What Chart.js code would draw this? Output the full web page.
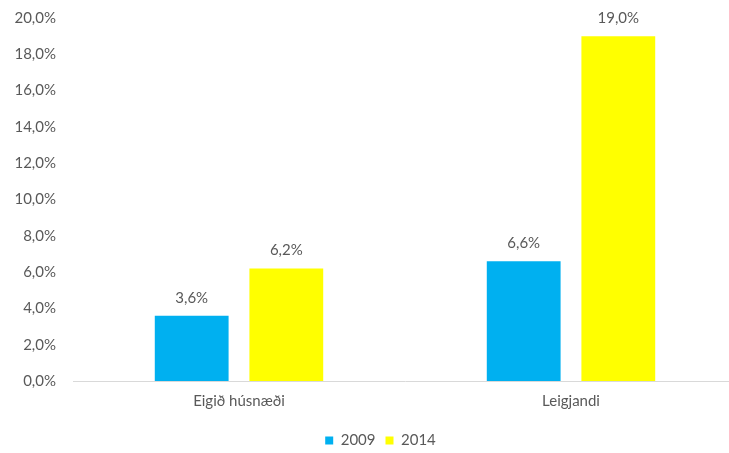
<!DOCTYPE html>
<html>
<head>
<meta charset="utf-8">
<script src="https://cdn.jsdelivr.net/npm/chart.js@4"></script>
<style>
  html,body{margin:0;padding:0;background:#fff;overflow:hidden;}
  #wrap{width:760px;height:458px;position:relative;}
</style>
</head>
<body>
<div id="wrap"><canvas id="c"></canvas></div>
<script>
const categories = ['Eigið húsnæði', 'Leigjandi'];
const years = ['2009', '2014'];
const values2009 = [3.6, 6.6];
const values2014 = [6.2, 19.0];
const yTicks = [0, 2, 4, 6, 8, 10, 12, 14, 16, 18, 20];

const fmtPct = (v)=> v.toFixed(1).replace('.', ',') + '%';
const FONT = 'Lato, "Open Sans", sans-serif';
const FSIZE = 15;
const GRAY = '#595959';

// gildi ofan á súlum
const barLabels = {
  id:'barLabels',
  afterDatasetsDraw(chart){
    const ctx = chart.ctx;
    ctx.save();
    ctx.font = FSIZE + 'px ' + FONT;
    ctx.fillStyle = GRAY;
    ctx.textAlign = 'center';
    ctx.textBaseline = 'middle';
    chart.data.datasets.forEach((ds, i)=>{
      chart.getDatasetMeta(i).data.forEach((bar, j)=>{
        ctx.fillText(fmtPct(ds.data[j]), bar.x, bar.y - 18);
      });
    });
    ctx.restore();
  }
};

// skýringin aðeins til hægri eins og í Excel
const shiftLegend = {
  id:'shiftLegend',
  afterLayout(chart){ if(chart.legend) chart.legend.left += 24; }
};

new Chart(document.getElementById('c'), {
  type:'bar',
  data:{
    labels: categories,
    datasets:[
      {label: years[0], data: values2009, backgroundColor:'#00B0F0', categoryPercentage:0.57, barPercentage:0.78},
      {label: years[1], data: values2014, backgroundColor:'#FFFF00', categoryPercentage:0.57, barPercentage:0.78}
    ]
  },
  options:{
    responsive:true,
    maintainAspectRatio:false,
    animation:false,
    layout:{padding:{top:18, right:23, left:0, bottom:0}},
    scales:{
      x:{
        grid:{display:false, drawTicks:false},
        border:{display:true, color:'#d9d9d9', width:1},
        ticks:{color:GRAY, font:{family:FONT, size:FSIZE}, padding:11},
        afterFit(s){ s.height = 42; s.paddingLeft = 0; s.paddingRight = 0; }
      },
      y:{
        min:0, max:20,
        afterBuildTicks(s){ s.ticks = yTicks.map(v=>({value:v})); },
        grid:{display:false, drawTicks:false},
        border:{display:false},
        ticks:{color:GRAY, font:{family:FONT, size:FSIZE}, padding:17, callback:(v)=>fmtPct(v)},
        afterFit(s){ s.width = 73; s.paddingTop = 0; s.paddingBottom = 0; }
      }
    },
    plugins:{
      legend:{
        position:'bottom',
        labels:{color:GRAY, font:{family:FONT, size:FSIZE}, boxWidth:8, boxHeight:8, padding:10}
      },
      tooltip:{enabled:false}
    }
  },
  plugins:[barLabels, shiftLegend]
});
</script>
</body>
</html>
